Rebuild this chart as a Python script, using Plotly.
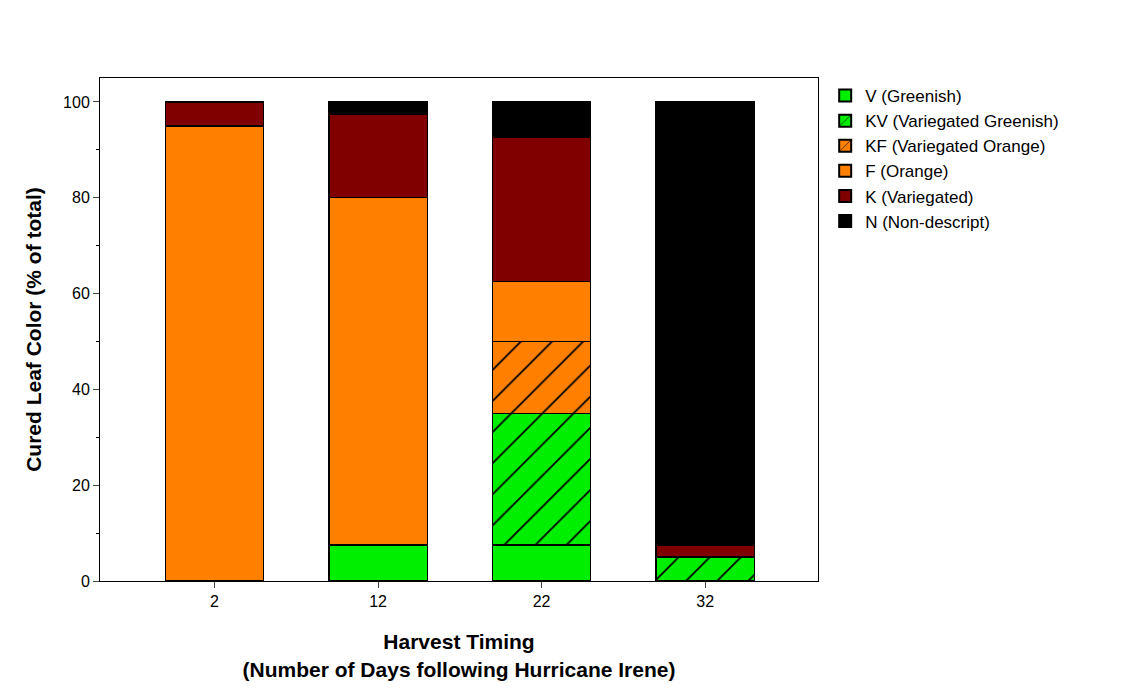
import plotly.graph_objects as go

categories = ["2", "12", "22", "32"]
series_names = ["V (Greenish)", "KV (Variegated Greenish)", "KF (Variegated Orange)",
                "F (Orange)", "K (Variegated)", "N (Non-descript)"]
V = [0, 7.5, 7.5, 0]
KV = [0, 0, 27.5, 5]
KF = [0, 0, 15, 0]
F = [95, 72.5, 12.5, 0]
K = [5, 17.5, 30, 2.5]
N = [0, 2.5, 7.5, 92.5]
values = [V, KV, KF, F, K, N]
colors = ["#00EE00", "#00EE00", "#FF8000", "#FF8000", "#800000", "#000000"]
hatched = [False, True, True, False, False, False]

fig = go.Figure()
for name, vals, c, h in zip(series_names, values, colors, hatched):
    marker = dict(color=c, line=dict(color="black", width=1.2))
    if h:
        marker["pattern"] = dict(shape="/", fgcolor="black", fgopacity=1, bgcolor=c, size=22, solidity=0.08)
    fig.add_trace(go.Bar(x=list(range(4)), y=vals, name=name, marker=marker, width=0.6))

fig.update_layout(
    barmode="stack", width=1140, height=700,
    paper_bgcolor="white", plot_bgcolor="white",
    margin=dict(l=92, r=330, t=70, b=127),
    font=dict(family="Liberation Sans, Arial, sans-serif", size=16, color="black"),
    legend=dict(x=1.01, y=1.0, xanchor="left", yanchor="top", traceorder="normal",
                font=dict(size=17), itemsizing="constant", tracegroupgap=0),
    showlegend=True,
)
fig.update_xaxes(range=[-0.7, 3.69], tickmode="array", tickvals=list(range(4)), ticktext=categories,
                 showline=True, linecolor="black", mirror=True, ticks="outside", ticklen=6,
                 showgrid=False, zeroline=False,
                 title=dict(text="<b>Harvest Timing<br>(Number of Days following Hurricane Irene)</b>",
                            font=dict(size=21), standoff=25))
fig.update_yaxes(range=[0, 105], tickvals=[0, 20, 40, 60, 80, 100],
                 showline=True, linecolor="black", mirror=True, ticks="outside", ticklen=6,
                 minor=dict(ticks="outside", ticklen=3, dtick=10, tickcolor="black"),
                 showgrid=False, zeroline=False,
                 title=dict(text="<b>Cured Leaf Color (% of total)</b>", font=dict(size=21), standoff=15))
fig.write_html("out.html")
